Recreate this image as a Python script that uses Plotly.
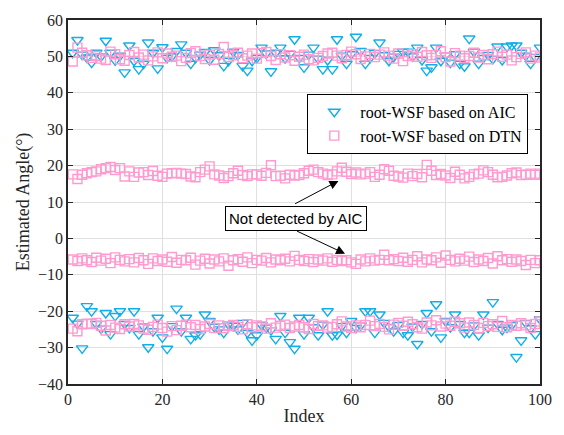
import plotly.graph_objects as go

idx = list(range(1, 101))

aic_upper = [51, 54.5, 50.5, 49.7, 48.3, 51, 50, 54.3, 51, 48.9,
             50.2, 45.6, 53, 48.8, 46.5, 48, 53.8, 51, 46.7, 52.5,
             49.6, 50, 51.5, 53.3, 51, 48, 49.6, 50.5, 51.2, 49,
             51.7, 50.3, 47.4, 48.8, 51.3, 50.4, 47.4, 46.1, 48.8, 49.6,
             52.4, 50.8, 45.9, 51, 52.4, 49.5, 50.7, 54.7, 49.6, 47,
             50.5, 52.4, 49.4, 46.5, 49, 46.5, 54.7, 50.2, 48, 50.6,
             55.4, 51.5, 48, 49.6, 50.9, 53.8, 50.3, 48.8, 49.9, 50.7,
             51.3, 51.3, 50, 52.4, 49, 46.1, 47, 52.4, 48.8, 50.3,
             48.3, 50.6, 48, 47.3, 54.9, 51.3, 48, 49.6, 50.4, 49.3,
             52.7, 49, 52.7, 53, 53, 51, 50.2, 48, 49.8, 52.4]

aic_lower = [-21.8, -23.4, -30.2, -18.6, -20, -23.5, -24.8, -20.5, -26.3, -21.3,
             -20, -23.5, -24.6, -20, -26.3, -24.2, -29.9, -25.5, -21.8, -27.2,
             -30.3, -24.1, -19.3, -25.5, -21.8, -27.6, -26.6, -26.3, -20.9, -22.7,
             -24.3, -25, -25.9, -23.6, -24, -25, -23.2, -25.9, -28, -26.6,
             -23.8, -24.5, -25.2, -27.6, -21.3, -25.9, -28.5, -30.3, -21.8, -26.3,
             -21.8, -24.4, -26.6, -23.7, -20, -26.6, -26.4, -24.1, -25.9, -22.7,
             -24.6, -23.9, -20, -20, -25.9, -20.9, -23.2, -24.3, -25.5, -23.8,
             -25.9, -26.6, -24.2, -29, -23.5, -20.5, -25.5, -18.1, -27.2, -22.7,
             -24.4, -20.9, -23.5, -25.9, -25.9, -23.9, -26.6, -20.9, -24.5, -17.5,
             -23.5, -25.1, -24.5, -23.8, -32.6, -28, -23.2, -24.7, -26.3, -22.2]

dtn_50 = [48.6, 52.4, 51.0, 50.3, 49.6, 50.1, 49.4, 49.0, 51.3, 50.6,
          49.2, 48.8, 50.4, 51.2, 49.7, 50.5, 48.9, 50.0, 51.1, 49.5,
          50.8, 49.9, 50.2, 48.7, 49.6, 50.9, 51.4, 50.1, 49.3, 50.5,
          49.1, 50.7, 52.6, 49.8, 50.3, 51.0, 49.5, 50.2, 50.8, 49.4,
          50.9, 51.2, 50.1, 49.0, 50.6, 49.7, 50.3, 48.8, 49.9, 50.5,
          49.2, 48.9, 49.6, 50.1, 50.8, 51.0, 50.2, 49.5, 50.4, 51.3,
          50.6, 49.3, 50.0, 50.7, 49.8, 50.5, 51.1, 50.2, 49.4, 50.8,
          48.7, 50.1, 50.6, 49.9, 51.2, 50.3, 49.6, 50.4, 51.4, 49.8,
          48.6, 50.9, 50.2, 49.5, 50.1, 51.0, 49.7, 50.4, 49.2, 50.6,
          51.3, 49.9, 50.5, 48.9, 49.8, 50.7, 51.1, 49.4, 50.2, 49.7]

dtn_18 = [17.6, 16.3, 17.5, 17.9, 18.2, 18.4, 19.0, 19.3, 19.6, 18.8,
          19.3, 17.0, 18.4, 16.9, 18.1, 18.2, 17.4, 18.5, 17.2, 16.9,
          17.8, 17.9, 18.0, 17.8, 17.7, 17.0, 16.8, 18.2, 18.9, 19.8,
          17.6, 17.3, 16.6, 17.1, 17.9, 18.6, 17.4, 17.1, 17.6, 17.6,
          17.2, 18.0, 20.1, 17.1, 17.2, 16.5, 17.5, 17.3, 17.4, 17.9,
          18.6, 18.9, 18.2, 17.8, 17.4, 17.6, 18.4, 19.4, 18.3, 17.7,
          18.1, 17.6, 17.8, 18.2, 16.9, 17.5, 19.0, 18.6, 17.2, 17.0,
          16.7, 17.8, 17.1, 17.7, 16.8, 20.2, 18.6, 17.4, 17.7, 17.3,
          16.6, 18.3, 17.5, 16.5, 16.9, 17.6, 17.8, 18.7, 18.2, 17.5,
          16.8, 16.9, 17.3, 17.9, 18.1, 17.4, 17.5, 17.8, 17.5, 17.8]

dtn_m6 = [-5.8, -6.2, -5.5, -6.0, -6.5, -5.3, -6.1, -5.6, -6.8, -5.2,
          -5.9, -6.3, -5.7, -6.6, -5.4, -6.0, -7.0, -5.5, -6.2, -5.8,
          -6.4, -5.1, -6.7, -5.9, -6.0, -5.3, -7.2, -6.1, -5.6, -6.9,
          -5.8, -6.3, -5.5, -7.5, -6.0, -5.7, -6.4, -5.2, -6.8, -5.9,
          -6.1, -5.4, -6.6, -5.8, -6.0, -5.6, -6.3, -4.8, -5.9, -6.2,
          -5.7, -6.5, -5.8, -6.1, -5.5, -6.4, -5.9, -6.2, -6.0, -6.6,
          -7.0, -5.8, -6.3, -5.5, -6.1, -5.9, -4.5, -6.0, -5.7, -6.2,
          -5.3, -6.4, -5.9, -4.9, -6.6, -5.8, -6.0, -5.2, -6.7, -4.7,
          -5.9, -6.3, -5.6, -6.1, -5.0, -6.5, -5.8, -6.2, -5.4, -6.9,
          -4.9, -6.0, -5.7, -6.4, -5.8, -6.2, -7.3, -5.9, -6.8, -6.0]

dtn_m24 = [-24.8, -25.5, -23.6, -23.4, -23.5, -23.2, -24.0, -25.3, -23.8, -24.5,
           -24.9, -23.6, -24.2, -23.5, -23.9, -24.8, -25.1, -24.3, -23.7, -24.6,
           -25.6, -24.1, -25.2, -24.0, -23.7, -24.4, -23.8, -24.9, -24.2, -23.5,
           -24.6, -23.9, -24.7, -24.1, -23.8, -24.3, -25.0, -23.6, -24.4, -23.9,
           -24.2, -24.8, -23.3, -24.5, -24.0, -23.7, -24.6, -24.2, -23.8, -24.4,
           -24.9, -23.5, -24.1, -23.9, -24.5, -24.3, -23.6, -22.8, -24.2, -24.6,
           -23.9, -24.4, -23.8, -22.6, -24.1, -23.5, -24.3, -25.0, -23.7, -23.2,
           -24.0, -22.9, -23.6, -24.4, -24.8, -23.1, -23.9, -22.5, -24.2, -23.4,
           -24.0, -22.9, -23.3, -24.5, -23.1, -23.8, -24.6, -23.2, -24.1, -23.6,
           -24.3, -22.7, -24.4, -23.8, -24.0, -23.3, -23.9, -24.6, -23.5, -22.8]

x_ticks = [0, 20, 40, 60, 80, 100]
y_ticks = [-40, -30, -20, -10, 0, 10, 20, 30, 40, 50, 60]

CYAN = "#12AEE8"
PINK = "#FF9AD0"
SERIF = "Liberation Serif, Times New Roman, serif"

fig = go.Figure()
fig.add_trace(go.Scatter(
    x=idx + idx, y=aic_upper + aic_lower, mode="markers",
    name="root-WSF based on AIC",
    marker=dict(symbol="triangle-down-open", size=10, color=CYAN,
                line=dict(width=1.4, color=CYAN)),
))
fig.add_trace(go.Scatter(
    x=idx * 4, y=dtn_50 + dtn_18 + dtn_m6 + dtn_m24, mode="markers",
    name="root-WSF based on DTN",
    marker=dict(symbol="square-open", size=9, color=PINK,
                line=dict(width=1.4, color=PINK)),
))

axis_common = dict(
    showgrid=True, gridcolor="#E0E0E0", gridwidth=1,
    showline=True, linecolor="#262626", linewidth=1.5, mirror="ticks",
    ticks="inside", ticklen=5, tickcolor="#262626", tickwidth=1,
    zeroline=False,
    tickfont=dict(family=SERIF, size=16, color="#262626"),
)

fig.update_xaxes(range=[0, 100], tickvals=x_ticks,
                 title=dict(text="Index", font=dict(family=SERIF, size=18, color="#262626"), standoff=2),
                 **axis_common)
fig.update_yaxes(range=[-40, 60], tickvals=y_ticks,
                 title=dict(text="Estimated Angle(°)", font=dict(family=SERIF, size=18, color="#262626"), standoff=4),
                 **axis_common)

# annotation text box
fig.add_annotation(x=48.4, y=5.5, xref="x", yref="y", text="Not detected by AIC",
                   showarrow=False, font=dict(family="Liberation Sans, Arial, sans-serif", size=15, color="black"),
                   bgcolor="white", bordercolor="black", borderwidth=1, borderpad=3)
# arrows
fig.add_annotation(x=57.3, y=15.8, ax=47.8, ay=9.3, xref="x", yref="y", axref="x", ayref="y",
                   text="", showarrow=True, arrowhead=2, arrowsize=1.8, arrowwidth=1, arrowcolor="black",
                   standoff=0, startstandoff=0)
fig.add_annotation(x=58.7, y=-4.2, ax=48.2, ay=2.2, xref="x", yref="y", axref="x", ayref="y",
                   text="", showarrow=True, arrowhead=2, arrowsize=1.8, arrowwidth=1, arrowcolor="black",
                   standoff=0, startstandoff=0)

fig.update_layout(
    width=564, height=435,
    margin=dict(l=68, r=21, t=15, b=51),
    paper_bgcolor="white", plot_bgcolor="white",
    showlegend=True,
    legend=dict(x=0.507, y=0.797, xanchor="left", yanchor="top",
                bgcolor="white", bordercolor="black", borderwidth=1,
                font=dict(family=SERIF, size=16, color="black"),
                itemwidth=42, tracegroupgap=0),
)

fig.write_html("out.html")
